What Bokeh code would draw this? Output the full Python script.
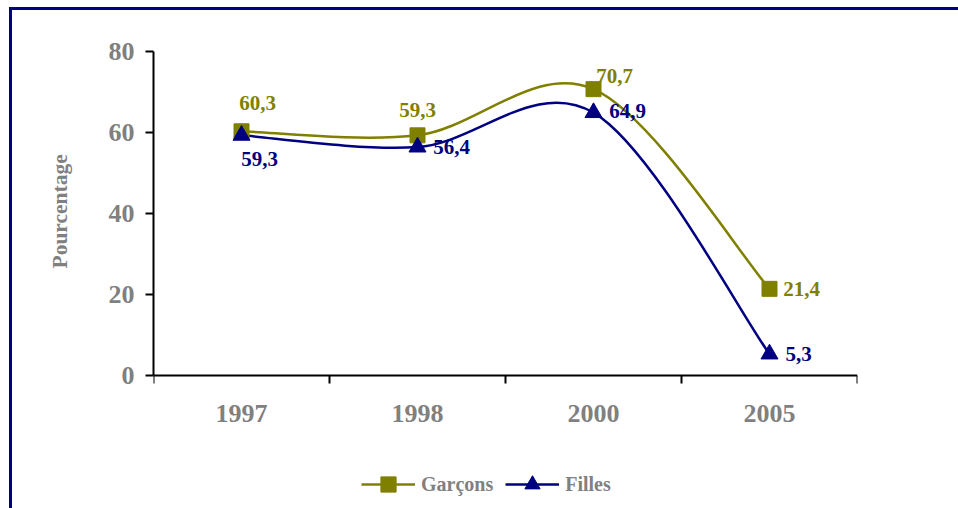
from bokeh.plotting import figure
from bokeh.models import FixedTicker, Legend, LegendItem
from bokeh.core.properties import value
from bokeh.embed import file_html
from bokeh.resources import INLINE

# ---- data ----
years = ["1997", "1998", "2000", "2005"]
garcons = [60.3, 59.3, 70.7, 21.4]
filles = [59.3, 56.4, 64.9, 5.3]
y_ticks = [0, 20, 40, 60, 80]
y_title = "Pourcentage"

# ---- styles ----
OLIVE = "#808000"
NAVY = "#000080"
GRAY = "#808080"
FONT = "Liberation Serif"

# label offsets in pixels (style only)
g_dx = [16, 0, 21, 32]
g_dy = [-28, -25, -13, 0]
f_dx = [18, 34, 34, 29]
f_dy = [24, 0, -2, 0]

# the frame extends below 0 to leave room for the axis labels and the legend
Y_LOW = -32.84

xs = [i + 0.5 for i in range(len(years))]


def smooth_segments(x, y):
    n = len(x)
    s = dict(x0=[], y0=[], x1=[], y1=[], cx0=[], cy0=[], cx1=[], cy1=[])
    for i in range(n - 1):
        p = max(i - 1, 0)
        q = min(i + 2, n - 1)
        s["x0"].append(x[i]); s["y0"].append(y[i])
        s["x1"].append(x[i + 1]); s["y1"].append(y[i + 1])
        s["cx0"].append(x[i] + (x[i + 1] - x[p]) / 6)
        s["cy0"].append(y[i] + (y[i + 1] - y[p]) / 6)
        s["cx1"].append(x[i + 1] - (x[q] - x[i]) / 6)
        s["cy1"].append(y[i + 1] - (y[q] - y[i]) / 6)
    return s


def fmt(v):
    return f"{v:.1f}".replace(".", ",")


p = figure(width=949, height=501, x_range=(0, len(years)), y_range=(Y_LOW, y_ticks[-1]),
           output_backend="svg", toolbar_location=None,
           title=y_title, title_location="left",
           min_border_left=144, min_border_right=101,
           min_border_top=44, min_border_bottom=0)
p.styles = {"margin-left": "9px", "margin-top": "7px",
            "box-shadow": "inset 3px 3px 0 0 #000080"}
p.outline_line_color = None
p.xgrid.grid_line_color = None
p.ygrid.grid_line_color = None
p.background_fill_color = None
p.border_fill_color = None

# axis title (as a left-side title so it sits beside the 0-80 span)
p.title.text_font = FONT
p.title.text_font_style = "bold"
p.title.text_font_size = "21.5px"
p.title.text_color = GRAY
p.title.align = "left"
p.title.offset = 240
p.title.standoff = 68

# y axis
p.yaxis.ticker = FixedTicker(ticks=y_ticks)
p.yaxis.bounds = (y_ticks[0], y_ticks[-1])
p.yaxis.major_tick_in = 0
p.yaxis.major_tick_out = 8
p.yaxis.minor_tick_line_color = None
p.yaxis.axis_line_width = 2
p.yaxis.major_tick_line_width = 2
p.yaxis.major_label_text_font = FONT
p.yaxis.major_label_text_font_style = "bold"
p.yaxis.major_label_text_font_size = "26px"
p.yaxis.major_label_text_color = GRAY
p.yaxis.major_label_standoff = 11

# x axis, drawn at y = 0
p.xaxis.fixed_location = 0
p.xaxis.ticker = FixedTicker(ticks=xs, minor_ticks=list(range(len(years) + 1)))
p.xaxis.major_label_overrides = {x: y for x, y in zip(xs, years)}
p.xaxis.major_tick_in = 0
p.xaxis.major_tick_out = 0
p.xaxis.minor_tick_in = 0
p.xaxis.minor_tick_out = 8
p.xaxis.minor_tick_line_width = 2
p.xaxis.minor_tick_line_color = "black"
p.xaxis.axis_line_width = 2
p.xaxis.major_label_text_font = FONT
p.xaxis.major_label_text_font_style = "bold"
p.xaxis.major_label_text_font_size = "26px"
p.xaxis.major_label_text_color = GRAY
p.xaxis.major_label_standoff = 22

# curves
sg = smooth_segments(xs, garcons)
sf = smooth_segments(xs, filles)
bz_g = p.bezier(source=sg, x0="x0", y0="y0", x1="x1", y1="y1", cx0="cx0", cy0="cy0",
                cx1="cx1", cy1="cy1", line_color=OLIVE, line_width=2.5)
bz_f = p.bezier(source=sf, x0="x0", y0="y0", x1="x1", y1="y1", cx0="cx0", cy0="cy0",
                cx1="cx1", cy1="cy1", line_color=NAVY, line_width=2.5)
sc_g = p.scatter(xs, garcons, marker="square", size=15, color=OLIVE)
sc_f = p.scatter(xs, filles, marker="triangle", size=17, color=NAVY)

# data labels
p.text(x=xs, y=garcons, text=[fmt(v) for v in garcons], x_offset=g_dx, y_offset=g_dy,
       text_align="center", text_baseline="middle", text_font=value(FONT),
       text_font_style="bold", text_font_size="21px", text_color=OLIVE)
p.text(x=xs, y=filles, text=[fmt(v) for v in filles], x_offset=f_dx, y_offset=f_dy,
       text_align="center", text_baseline="middle", text_font=value(FONT),
       text_font_style="bold", text_font_size="21px", text_color=NAVY)

legend = Legend(items=[LegendItem(label="Garçons", renderers=[bz_g, sc_g]),
                       LegendItem(label="Filles", renderers=[bz_f, sc_f])],
                location=(208, 5), orientation="horizontal",
                glyph_width=54, glyph_height=38, label_standoff=6, spacing=12,
                padding=0, margin=0, border_line_color=None, background_fill_alpha=0,
                label_text_font=FONT, label_text_font_style="bold",
                label_text_font_size="20px", label_text_color=GRAY)
p.add_layout(legend)

open("out.html", "w").write(file_html(p, INLINE))
